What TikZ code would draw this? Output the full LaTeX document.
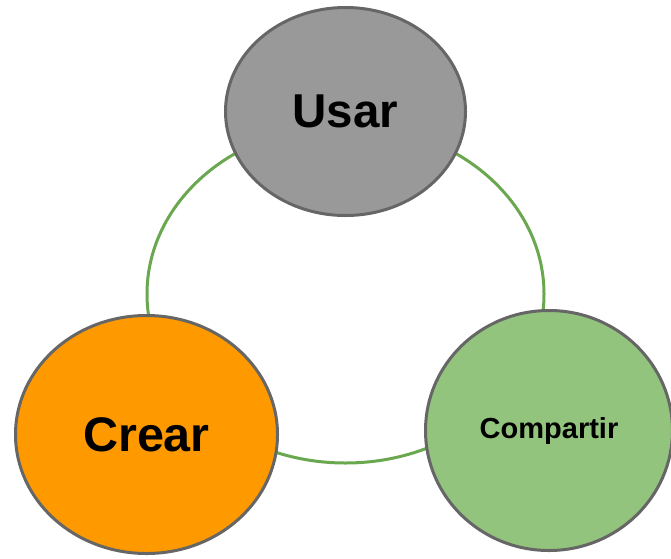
\documentclass[tikz,border=0pt]{standalone}
\usepackage{fontspec}
\setmainfont{Liberation Sans}
\usepackage{xcolor}
\usepackage{tikz}
\usetikzlibrary{arrows.meta}
\usetikzlibrary{shapes}
\usetikzlibrary{positioning}
\definecolor{usargray}{HTML}{999999}
\definecolor{crearorange}{HTML}{FF9900}
\definecolor{compgreen}{HTML}{93C47D}
\definecolor{ringgreen}{HTML}{6AA84F}
\definecolor{bordergray}{HTML}{666666}
\tikzset{%
  every stage/.style={
    ellipse,
    draw=bordergray,
    line width=3pt,
    inner sep=0pt,
    font=\bfseries
  },
  ring cycle/.style={
    ellipse,
    draw=ringgreen,
    line width=3pt,
    minimum width=397pt,
    minimum height=338pt
  },
}

\begin{document}
\begin{tikzpicture}[x=1pt, y=-1pt]

    \useasboundingbox (0,0) rectangle (671,558);

    \node [ring cycle] (ring) at (345.5,294) {};

    \node [every stage, fill=usargray, minimum width=240pt, minimum height=208pt,
           font=\bfseries\fontsize{47.5}{50}\selectfont] (usar) at (345.5,111.5) {Usar};

    \node [every stage, fill=crearorange, minimum width=262pt, minimum height=238pt,
           font=\bfseries\fontsize{48.5}{50}\selectfont] (crear) at (146.5,434.5) {Crear};

    \node [every stage, fill=compgreen, minimum width=247pt, minimum height=240pt,
           font=\bfseries\fontsize{29}{32}\selectfont] (compartir) at (549,430.5) {Compartir};

\end{tikzpicture}
\end{document}
